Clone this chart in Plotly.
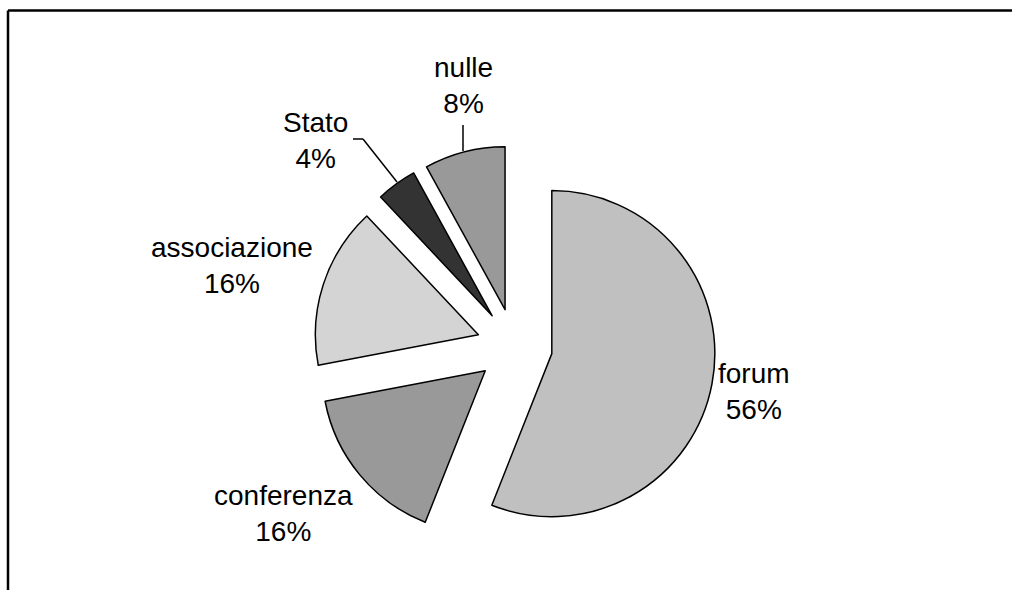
import plotly.graph_objects as go

# Survey answers and their shares
categories = ["forum", "conferenza", "associazione", "Stato", "nulle"]
counts = [14, 4, 4, 1, 2]
colors = ["#c0c0c0", "#999999", "#d4d4d4", "#333333", "#999999"]

W, H = 1012, 590


def px(x, y):
    """Pixel position -> paper coordinates."""
    return x / W, 1 - y / H


total = sum(counts)
labels_text = [f"{c}<br>{round(100 * v / total)}%" for c, v in zip(categories, counts)]

fig = go.Figure(
    go.Pie(
        labels=categories,
        values=counts,
        sort=False,
        direction="clockwise",
        rotation=0,
        pull=[0.233] * len(counts),
        marker=dict(colors=colors, line=dict(color="black", width=1.5)),
        textinfo="none",
        hoverinfo="label+percent",
        showlegend=False,
        domain=dict(x=[313.5 / W, 715.5 / W], y=[1 - 547.5 / H, 1 - 145.5 / H]),
    )
)

# Label placement around the pie
label_pos = {
    "forum": (754, 391),
    "conferenza": (283, 513),
    "associazione": (232, 265),
    "Stato": (315, 140),
    "nulle": (463, 85),
}
annotations = []
for cat, txt in zip(categories, labels_text):
    x, y = px(*label_pos[cat])
    annotations.append(
        dict(
            x=x, y=y, xref="paper", yref="paper",
            text=txt, showarrow=False,
            xanchor="center", yanchor="middle",
            font=dict(family="Liberation Sans, Arial, sans-serif", size=28, color="black"),
        )
    )


def seg(p0, p1, width=1.5):
    x0, y0 = px(*p0)
    x1, y1 = px(*p1)
    return dict(type="line", xref="paper", yref="paper",
                x0=x0, y0=y0, x1=x1, y1=y1,
                line=dict(color="black", width=width))


shapes = [
    # chart frame (left and top edges)
    seg((8, 10.5), (8, 590), 2.5),
    seg((8, 10.5), (1012, 10.5), 2.5),
    # leader lines
    seg((463, 125), (463, 151)),
    seg((353, 139), (363, 139)),
    seg((363, 139), (397, 182)),
]

fig.update_layout(
    width=W, height=H,
    margin=dict(l=0, r=0, t=0, b=0),
    paper_bgcolor="white",
    plot_bgcolor="white",
    annotations=annotations,
    shapes=shapes,
)

fig.write_html("out.html")
